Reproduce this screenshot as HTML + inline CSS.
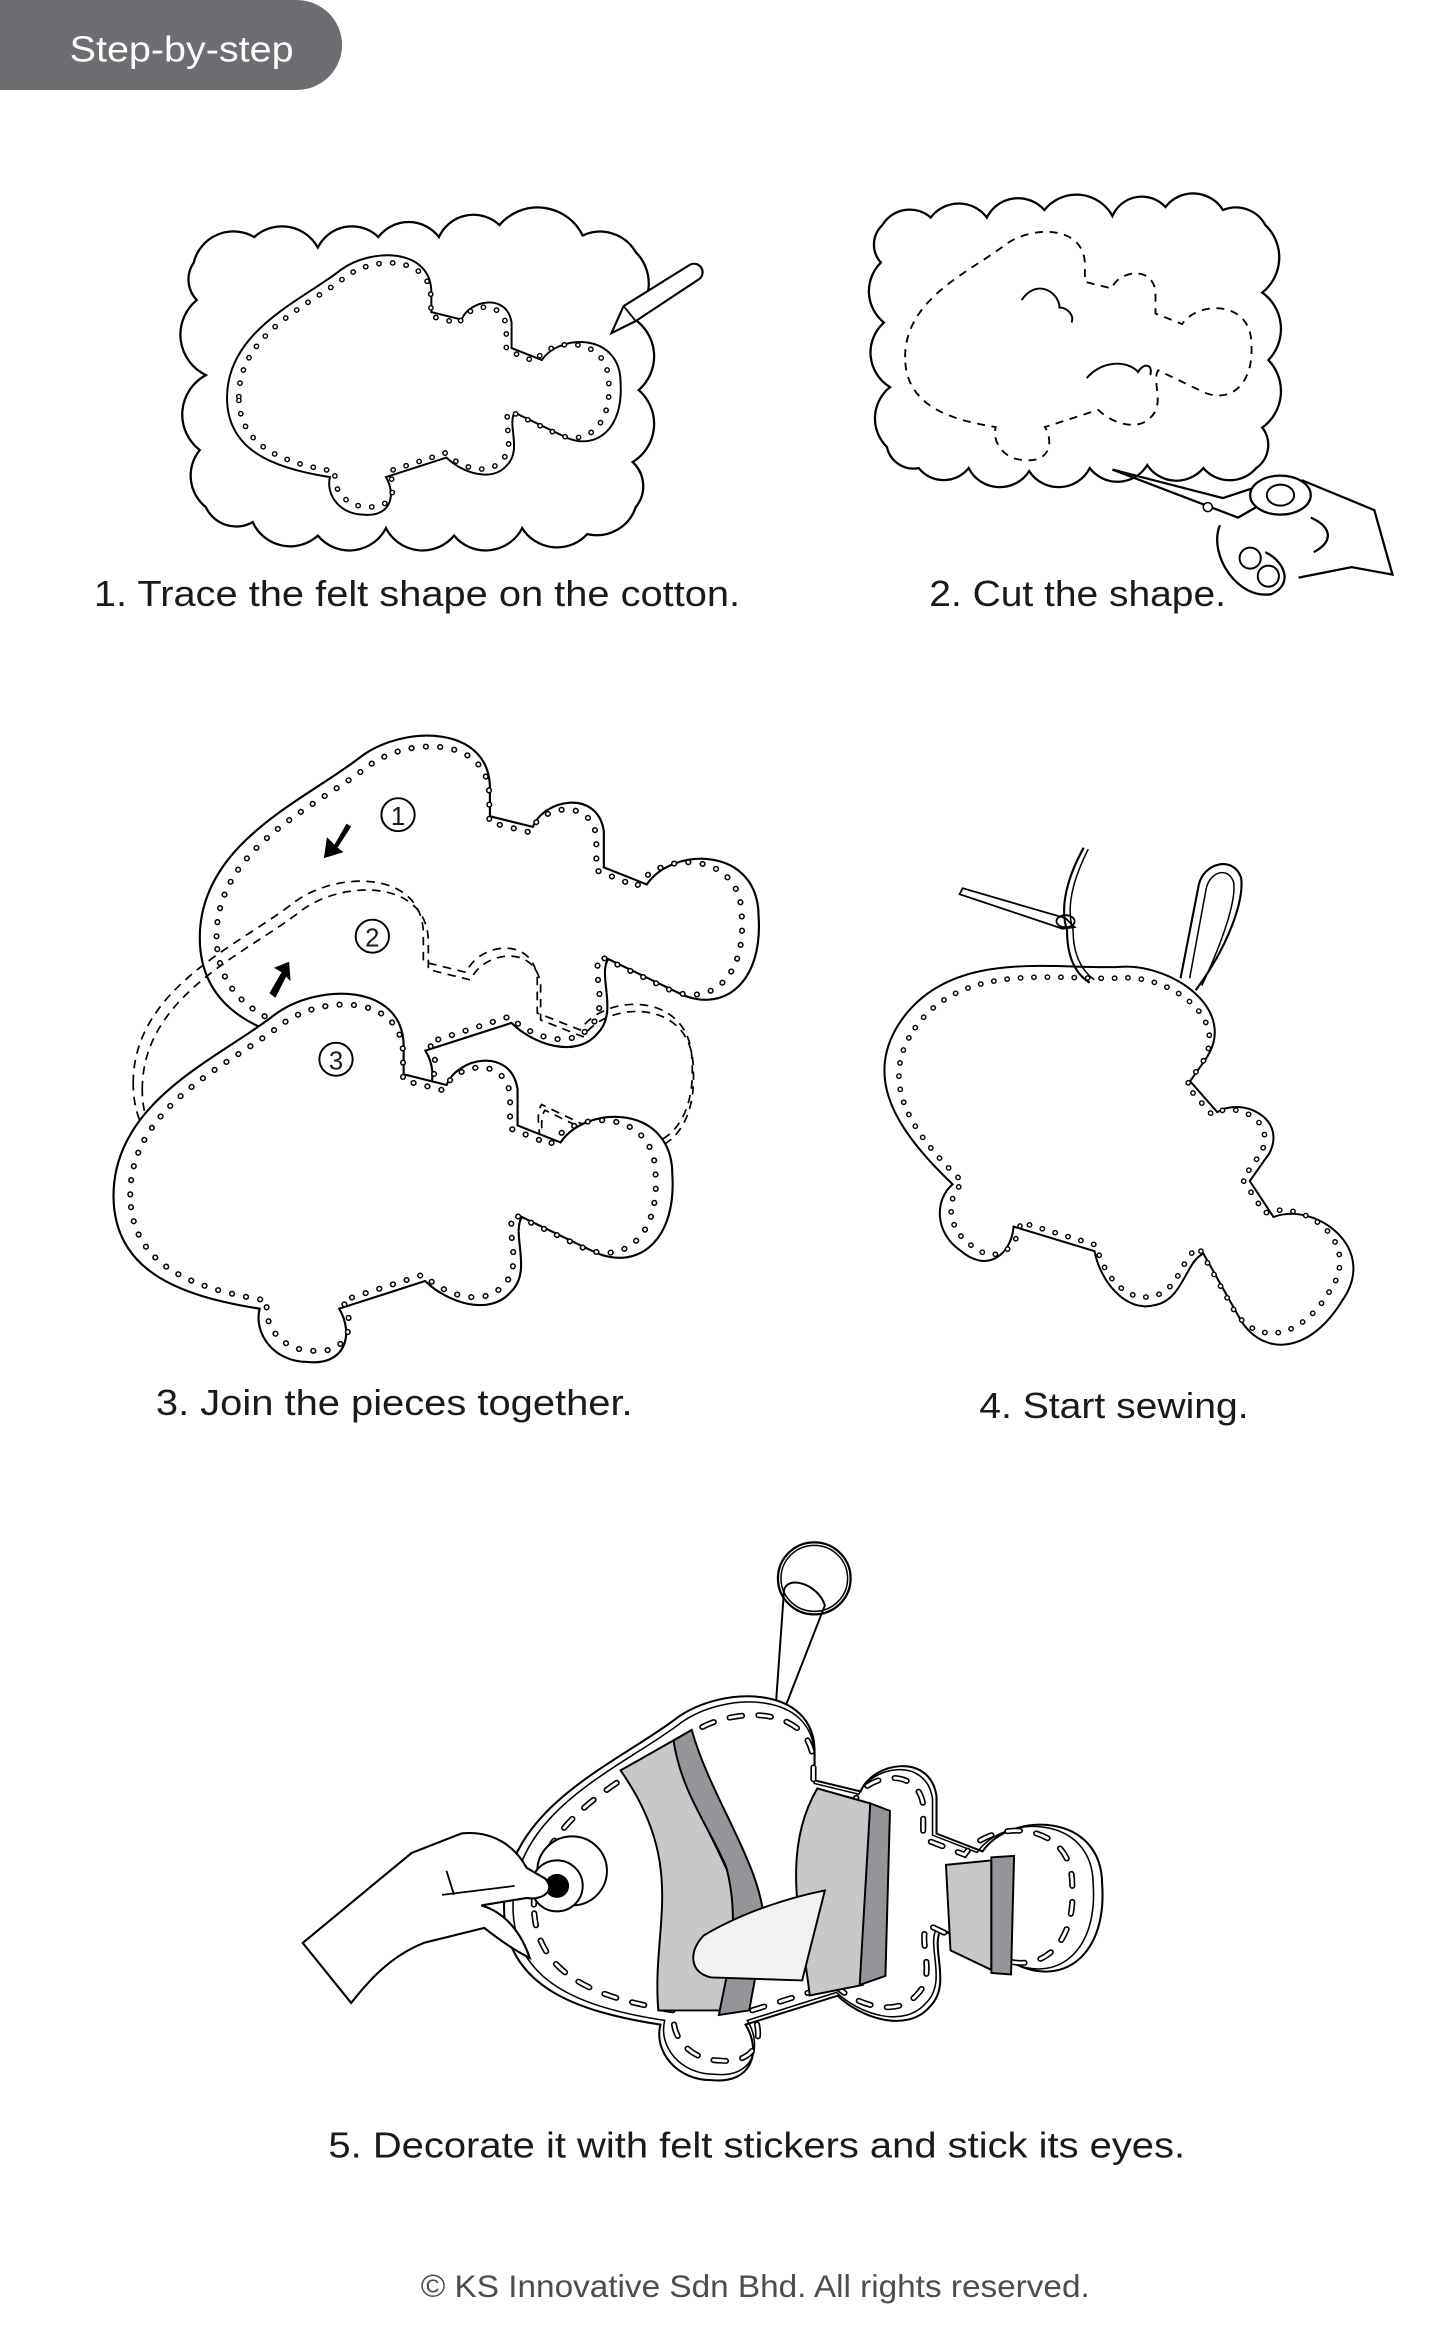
<!DOCTYPE html>
<html><head><meta charset="utf-8"><style>
html,body{margin:0;padding:0;background:#fff;}
svg{display:block;}
text{font-family:"Liberation Sans Narrow","Liberation Sans",sans-serif;fill:#1a1a1a;}
</style></head><body>
<svg width="1453" height="2327" viewBox="0 0 960 1551" preserveAspectRatio="none" xmlns="http://www.w3.org/2000/svg">
<defs>
<path id="fish" d="M150,265 C150,220 200,200 225,180 C245,165 285,165 285,195 L285,208 L305,213 C310,200 335,195 338,215 L338,232 L358,240 C370,222 410,222 410,255 C412,285 395,300 375,292 L340,275 C335,283 345,300 335,310 C325,322 305,315 295,305 L255,318 C262,330 258,345 240,343 C225,343 215,330 218,318 C180,312 150,300 150,265 Z"/>
<g id="dotfish">
 <use href="#fish" fill="#fff" stroke="#000" stroke-width="1.3"/>
 <g transform="translate(280,255) scale(0.94) translate(-280,-255)">
  <use href="#fish" fill="none" stroke="#000" stroke-width="4" stroke-linecap="round" stroke-dasharray="0.1 9.5"/>
  <use href="#fish" fill="none" stroke="#fff" stroke-width="2" stroke-linecap="round" stroke-dasharray="0.1 9.5"/>
 </g>
</g>
<g id="dotfishS">
 <use href="#fish" fill="#fff" stroke="#000" stroke-width="1"/>
 <g transform="translate(280,255) scale(0.94) translate(-280,-255)">
  <use href="#fish" fill="none" stroke="#000" stroke-width="3" stroke-linecap="round" stroke-dasharray="0.1 7"/>
  <use href="#fish" fill="none" stroke="#fff" stroke-width="1.5" stroke-linecap="round" stroke-dasharray="0.1 7"/>
 </g>
</g>
</defs>
<rect width="960" height="1551" fill="#fff"/>
<!-- header -->
<rect x="-40" y="0" width="266" height="60" rx="30" fill="#6d6e71"/>
<text x="46" y="41" font-size="24" style="fill:#fff" textLength="148" lengthAdjust="spacingAndGlyphs">Step-by-step</text>

<!-- STEP 1 cloud -->
<path d="M128,175 A27,27 0 0 1 168,158 A27,27 0 0 1 210,165 A25,25 0 0 1 250,158 A25,25 0 0 1 290,158 A25,25 0 0 1 330,150 A33,33 0 0 1 385,157 A27,27 0 0 1 420,168 A30,30 0 0 1 418,212 A30,30 0 0 1 422,260 A30,30 0 0 1 418,308 A22,22 0 0 1 420,338 A27,27 0 0 1 388,356 A27,27 0 0 1 345,352 A27,27 0 0 1 300,357 A27,27 0 0 1 255,352 A27,27 0 0 1 210,357 A27,27 0 0 1 167,348 A22,22 0 0 1 136,338 A27,27 0 0 1 132,300 A30,30 0 0 1 136,250 A30,30 0 0 1 130,200 A20,20 0 0 1 128,175 Z" fill="#fff" stroke="#000" stroke-width="1.5"/>
<use href="#dotfish"/>
<!-- pencil -->
<path d="M404,222 L412,204 L455,177 A5,5 0 0 1 462,186 L420,214 Z" fill="#fff" stroke="#000" stroke-width="1.4"/>
<path d="M412,204 L420,214" stroke="#000" stroke-width="1.2"/>
<text x="62" y="404" font-size="24" textLength="427" lengthAdjust="spacingAndGlyphs">1. Trace the felt shape on the cotton.</text>

<!-- STEP 2 cloud -->
<path d="M583,150 A21,21 0 0 1 615,145 A23,23 0 0 1 652,145 A23,23 0 0 1 690,140 A27,27 0 0 1 735,144 A21,21 0 0 1 770,138 A23,23 0 0 1 808,140 A22,22 0 0 1 836,150 A30,30 0 0 1 834,195 A30,30 0 0 1 838,240 A30,30 0 0 1 834,285 A19,19 0 0 1 830,312 A23,23 0 0 1 795,312 A23,23 0 0 1 758,310 A23,23 0 0 1 720,312 A23,23 0 0 1 680,314 A23,23 0 0 1 640,312 A21,21 0 0 1 607,312 A18,18 0 0 1 586,298 A27,27 0 0 1 588,258 A27,27 0 0 1 584,215 A27,27 0 0 1 582,175 A18,18 0 0 1 583,150 Z" fill="#fff" stroke="#000" stroke-width="1.5"/>
<g transform="translate(598,150) scale(0.88) translate(-150,-165)">
 <use href="#fish" fill="none" stroke="#000" stroke-width="1.4" stroke-dasharray="6 5"/>
</g>
<path d="M675,200 C685,185 700,195 700,205 C705,205 710,210 708,215" fill="none" stroke="#000" stroke-width="1.3"/>
<path d="M718,252 C728,240 745,240 752,248 C755,242 762,242 760,250" fill="none" stroke="#000" stroke-width="1.3"/>
<!-- scissors + hand -->
<g transform="translate(-12,0)">
<path d="M747,313 L830,345 L842,338" fill="none" stroke="#000" stroke-width="1.5"/>
<path d="M747,313 L820,332 L850,322" fill="none" stroke="#000" stroke-width="1.5"/>
<path d="M872,320 L920,340 L932,383 L905,378 L870,385 M878,345 C890,350 895,360 880,368" fill="#fff" stroke="#000" stroke-width="1.5"/>
<ellipse cx="858" cy="330" rx="20" ry="13" fill="#fff" stroke="#000" stroke-width="1.5"/>
<ellipse cx="858" cy="330" rx="9" ry="7" fill="#fff" stroke="#000" stroke-width="1.3"/>
<path d="M818,350 C810,370 830,400 852,396 C866,390 862,375 848,368" fill="#fff" stroke="#000" stroke-width="1.5"/>
<circle cx="838" cy="372" r="7" fill="#fff" stroke="#000" stroke-width="1.3"/>
<circle cx="850" cy="384" r="7" fill="#fff" stroke="#000" stroke-width="1.3"/>
<circle cx="810" cy="338" r="3" fill="#fff" stroke="#000" stroke-width="1"/>
</g>
<text x="614" y="404" font-size="24" textLength="196" lengthAdjust="spacingAndGlyphs">2. Cut the shape.</text>

<!-- STEP 3 -->
<g transform="translate(132,483) scale(1.42) translate(-150,-165)"><use href="#dotfishS"/></g>
<g transform="translate(88,580) scale(1.42) translate(-150,-165)">
 <use href="#fish" fill="none" stroke="#000" stroke-width="0.8" stroke-dasharray="4 3"/>
</g>
<g transform="translate(94,586) scale(1.40) translate(-150,-165)">
 <use href="#fish" fill="none" stroke="#000" stroke-width="0.8" stroke-dasharray="4 3"/>
</g>
<g transform="translate(75,655) scale(1.42) translate(-150,-165)"><use href="#dotfishS"/></g>
<circle cx="263" cy="543" r="11" fill="#fff" stroke="#000" stroke-width="1.3"/>
<text x="263" y="550" font-size="17" text-anchor="middle">1</text>
<circle cx="246" cy="624" r="11" fill="#fff" stroke="#000" stroke-width="1.3"/>
<text x="246" y="631" font-size="17" text-anchor="middle">2</text>
<circle cx="222" cy="706" r="11" fill="#fff" stroke="#000" stroke-width="1.3"/>
<text x="222" y="713" font-size="17" text-anchor="middle">3</text>
<path d="M229,549 L221,563 L216,558 L214,572 L227,568 L223,565 L232,551 Z" fill="#000"/>
<path d="M178,662 L186,648 L181,645 L191,641 L192,654 L189,651 L182,665 Z" fill="#000"/>
<text x="103" y="943" font-size="24" textLength="315" lengthAdjust="spacingAndGlyphs">3. Join the pieces together.</text>

<!-- STEP 4 -->
<g transform="translate(745,768) rotate(35) scale(1.33) translate(-280,-255)"><use href="#dotfishS"/></g>
<path d="M636,592 L704,612 L710,618 L702,619 L634,596 Z" fill="#fff" stroke="#000" stroke-width="1.2"/>
<ellipse cx="704" cy="614" rx="6" ry="4" fill="none" stroke="#000" stroke-width="1.2"/>
<path d="M716,565 C705,585 700,605 705,620 C705,640 712,650 720,655" fill="none" stroke="#000" stroke-width="1.4"/>
<path d="M719,566 C709,586 704,605 709,620 C709,638 716,648 723,653" fill="none" stroke="#000" stroke-width="1"/>
<path d="M780,652 L792,590 C795,575 815,570 820,585 C822,600 812,630 790,660" fill="none" stroke="#000" stroke-width="1.4"/>
<path d="M786,652 L797,592 C800,580 812,578 815,588 C817,600 808,627 794,657" fill="none" stroke="#000" stroke-width="1"/>
<text x="647" y="945" font-size="24" textLength="178" lengthAdjust="spacingAndGlyphs">4. Start sewing.</text>

<!-- STEP 5 -->
<g transform="translate(0,-15)">
<circle cx="538" cy="1067" r="24" fill="none" stroke="#000" stroke-width="1.5"/>
<circle cx="538" cy="1067" r="22" fill="none" stroke="#000" stroke-width="1"/>
<path d="M512,1160 L518,1075 C520,1065 540,1070 545,1085 L516,1160" fill="none" stroke="#000" stroke-width="1.3"/>
<g transform="translate(333,1138) scale(1.52,1.48) translate(-150,-165)">
 <use href="#fish" fill="#fff" stroke="#000" stroke-width="0.9"/>
 <g transform="translate(280,255) scale(0.97) translate(-280,-255)"><use href="#fish" fill="none" stroke="#000" stroke-width="0.7"/></g>
 <g transform="translate(280,255) scale(0.9) translate(-280,-255)">
  <use href="#fish" fill="none" stroke="#000" stroke-width="3" stroke-linecap="round" stroke-dasharray="6 8"/>
  <use href="#fish" fill="none" stroke="#fff" stroke-width="1.4" stroke-linecap="round" stroke-dasharray="6 8"/>
 </g>
</g>
<path d="M410,1195 L445,1175 C455,1220 480,1250 495,1300 L485,1355 L435,1355 C430,1300 455,1260 410,1195 Z" fill="#c8c8ca" stroke="#000" stroke-width="1.3"/>
<path d="M445,1175 L457,1168 C470,1215 505,1260 505,1300 L495,1355 L475,1358 C480,1330 490,1300 480,1260 C470,1235 450,1210 445,1175 Z" fill="#939598" stroke="#000" stroke-width="1.3"/>
<path d="M540,1207 L575,1217 L570,1338 L535,1345 C530,1300 515,1250 540,1207 Z" fill="#c8c8ca" stroke="#000" stroke-width="1.3"/>
<path d="M575,1217 L588,1222 L585,1332 L568,1338 Z" fill="#939598" stroke="#000" stroke-width="1.3"/>
<path d="M625,1258 L655,1255 L655,1328 L628,1315 Z" fill="#c8c8ca" stroke="#000" stroke-width="1.3"/>
<path d="M655,1253 L670,1252 L668,1331 L655,1330 Z" fill="#939598" stroke="#000" stroke-width="1.3"/>
<path d="M465,1305 C490,1290 520,1280 545,1275 L530,1335 L470,1333 C455,1330 455,1315 465,1305 Z" fill="#f1f1f2" stroke="#000" stroke-width="1.3"/>
<circle cx="378" cy="1262" r="23" fill="#fff" stroke="#000" stroke-width="1.3"/>
<circle cx="368" cy="1272" r="17" fill="#fff" stroke="#000" stroke-width="1.3"/>
<circle cx="368" cy="1272" r="8" fill="#000"/>
<path d="M200,1310 L272,1250 L305,1237 C325,1235 340,1245 348,1260 L360,1267 C368,1275 358,1282 348,1280 L318,1285 C335,1290 345,1305 350,1320 C340,1315 330,1308 320,1300 L280,1310 C255,1320 240,1340 232,1350 Z" fill="#fff" stroke="#000" stroke-width="1.4"/>
<path d="M292,1278 L340,1272 M295,1262 L300,1278" fill="none" stroke="#000" stroke-width="1.2"/>
</g>
<text x="217" y="1438" font-size="24" textLength="566" lengthAdjust="spacingAndGlyphs">5. Decorate it with felt stickers and stick its eyes.</text>

<!-- footer -->
<text x="278" y="1531" font-size="21" style="fill:#4d4d4f" textLength="442" lengthAdjust="spacingAndGlyphs">© KS Innovative Sdn Bhd.  All rights reserved.</text>
</svg>
</body></html>
